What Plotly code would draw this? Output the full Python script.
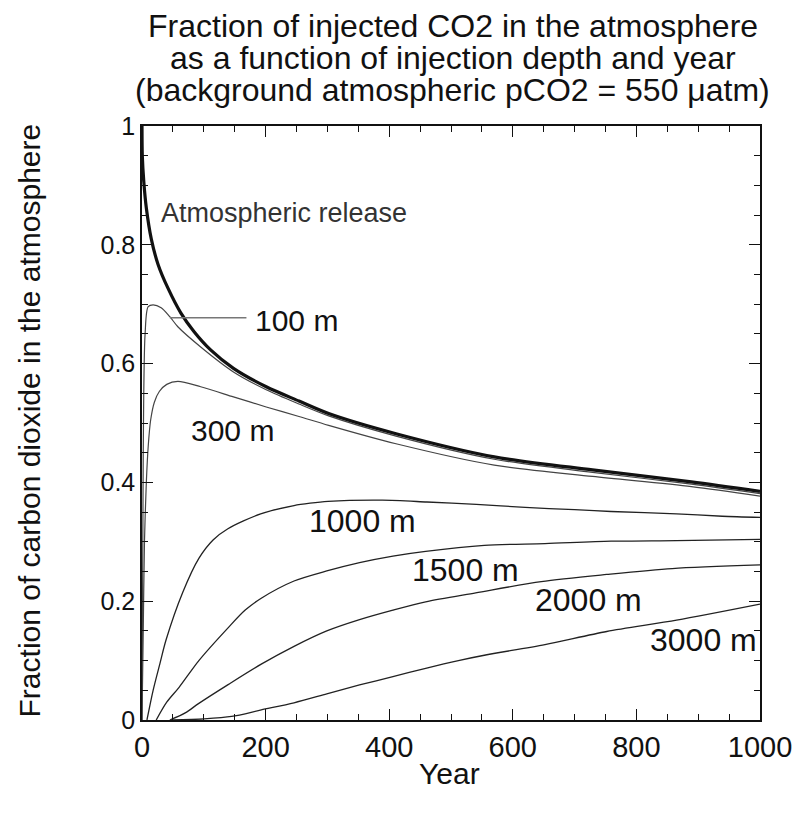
import plotly.graph_objects as go

# ---------------- data ----------------
years_atm = [0, 0.5, 3, 7, 15, 26, 42, 63, 84, 111, 148, 201, 254, 302, 411, 570, 729, 889, 1000]
frac_atm = [1.0, 0.95, 0.905, 0.862, 0.81, 0.767, 0.727, 0.685, 0.654, 0.623, 0.592, 0.561, 0.537, 0.516, 0.482, 0.443, 0.421, 0.401, 0.385]

years_100 = [0, 2, 5, 10, 18, 31, 45, 58, 95, 148, 201, 254, 302, 411, 570, 729, 889, 1000]
frac_100 = [0, 0.45, 0.65, 0.696, 0.699, 0.694, 0.679, 0.662, 0.628, 0.586, 0.556, 0.532, 0.512, 0.478, 0.439, 0.417, 0.397, 0.381]

years_300 = [0, 2, 4, 7, 10, 14, 20, 28, 40, 58, 95, 148, 201, 254, 302, 411, 570, 729, 889, 1000]
frac_300 = [0, 0.15, 0.30, 0.40, 0.46, 0.505, 0.535, 0.553, 0.565, 0.570, 0.561, 0.544, 0.527, 0.511, 0.496, 0.465, 0.429, 0.410, 0.393, 0.377]

years_1000 = [8, 18, 29, 39, 66, 92, 115, 139, 192, 246, 272, 301, 389, 461, 541, 620, 700, 759, 865, 939, 1000]
frac_1000 = [0, 0.05, 0.095, 0.135, 0.215, 0.272, 0.303, 0.322, 0.347, 0.361, 0.365, 0.368, 0.370, 0.367, 0.363, 0.358, 0.354, 0.351, 0.347, 0.343, 0.341]

years_1500 = [23, 40, 60, 92, 140, 167, 193, 246, 299, 352, 406, 459, 554, 652, 759, 865, 1000]
frac_1500 = [0, 0.03, 0.055, 0.10, 0.156, 0.185, 0.205, 0.234, 0.251, 0.265, 0.276, 0.284, 0.294, 0.297, 0.301, 0.302, 0.304]

years_2000 = [45, 70, 92, 140, 193, 246, 299, 352, 406, 459, 540, 646, 752, 858, 1000]
frac_2000 = [0, 0.012, 0.028, 0.060, 0.094, 0.124, 0.150, 0.169, 0.185, 0.199, 0.214, 0.233, 0.245, 0.255, 0.261]

years_3000 = [48, 100, 145, 193, 246, 299, 352, 406, 459, 512, 554, 652, 752, 865, 1000]
frac_3000 = [0, 0.002, 0.006, 0.017, 0.029, 0.044, 0.059, 0.073, 0.087, 0.100, 0.109, 0.127, 0.149, 0.168, 0.195]

x_tickvals = [0, 200, 400, 600, 800, 1000]
y_tickvals = [0, 0.2, 0.4, 0.6, 0.8, 1]

title_lines = [
    "Fraction of injected CO2 in the atmosphere",
    "as a function of injection depth and year",
    "(background atmospheric pCO2 = 550 \u03bcatm)",
]
x_title = "Year"
y_title = "Fraction of carbon dioxide in the atmosphere"

# label text, anchor year, anchor fraction, font size, colour
curve_labels = [
    ("Atmospheric release", 28, 0.854, 27, "#333333"),
    ("100 m", 180, 0.672, 30, "#111111"),
    ("300 m", 76, 0.488, 30, "#111111"),
    ("1000 m", 267, 0.335, 32, "#111111"),
    ("1500 m", 434, 0.2525, 32, "#111111"),
    ("2000 m", 633, 0.202, 32, "#111111"),
    ("3000 m", 819, 0.135, 32, "#111111"),
]

FONT = "Liberation Sans, Arial, sans-serif"

fig = go.Figure()

series = [
    (years_3000, frac_3000, "#222222", 1.3),
    (years_2000, frac_2000, "#222222", 1.3),
    (years_1500, frac_1500, "#222222", 1.3),
    (years_1000, frac_1000, "#222222", 1.3),
    (years_300, frac_300, "#444444", 1.2),
    (years_100, frac_100, "#444444", 1.2),
    (years_atm, frac_atm, "#111111", 3.2),
]
for xs, ys, c, w in series:
    fig.add_trace(go.Scatter(x=xs, y=ys, mode="lines",
                             line=dict(color=c, width=w, shape="spline", smoothing=0.8),
                             showlegend=False, hoverinfo="skip"))

# leader line for the 100 m label
fig.add_shape(type="line", xref="x", yref="y", x0=45, x1=169, y0=0.677, y1=0.677,
              line=dict(color="#777777", width=1.5))

for txt, x, y, s, c in curve_labels:
    fig.add_annotation(x=x, y=y, xref="x", yref="y", text=txt, showarrow=False,
                       xanchor="left", yanchor="middle",
                       font=dict(family=FONT, size=s, color=c))

# page offset: the browser body has an 8px margin, so work in window pixels
OFF = 8
W0, H0 = 804, 815
W, H = W0 - OFF, H0 - OFF
L, T = 142 - OFF, 126 - OFF
R = W - (768 - OFF)
B = H - (720 - OFF)
pw, ph = W - L - R, H - T - B


def px(x, y):
    """window pixel -> paper fraction"""
    return (x - OFF - L) / pw, (H - B - (y - OFF)) / ph


for i, line in enumerate(title_lines):
    ax, ay = px(457, 26 + 32 * i)
    fig.add_annotation(x=ax, y=ay, xref="paper", yref="paper",
                       text=line, showarrow=False, xanchor="center", yanchor="middle",
                       font=dict(family=FONT, size=32, color="#111111"))

ax, ay = px(453, 773)
fig.add_annotation(x=ax, y=ay, xref="paper", yref="paper", text=x_title, showarrow=False,
                   xanchor="center", yanchor="middle",
                   font=dict(family=FONT, size=30, color="#111111"))
ax, ay = px(28, 420)
fig.add_annotation(x=ax, y=ay, xref="paper", yref="paper", text=y_title, showarrow=False,
                   textangle=-90, xanchor="center", yanchor="middle",
                   font=dict(family=FONT, size=30, color="#111111"))

axis_common = dict(
    showgrid=False, zeroline=False, showline=True, linecolor="#111111", linewidth=1.5,
    mirror="ticks", ticks="inside", tickcolor="#111111", tickwidth=1.2,
)

fig.update_xaxes(range=[0, 1000], tickvals=x_tickvals, ticklen=11,
                 tickfont=dict(family=FONT, size=29, color="#111111"),
                 minor=dict(dtick=50, tick0=0, ticks="inside", ticklen=6,
                            tickcolor="#111111", tickwidth=1.2),
                 **axis_common)
fig.update_yaxes(range=[0, 1], tickvals=y_tickvals, ticklen=11,
                 tickfont=dict(family=FONT, size=25, color="#111111"),
                 minor=dict(dtick=0.05, tick0=0, ticks="inside", ticklen=6,
                            tickcolor="#111111", tickwidth=1.2),
                 **axis_common)

fig.update_layout(width=W, height=H, autosize=False,
                  margin=dict(l=L, r=R, t=T, b=B, pad=0),
                  paper_bgcolor="white", plot_bgcolor="white",
                  font=dict(family=FONT, color="#111111"))

fig.write_html("out.html")
